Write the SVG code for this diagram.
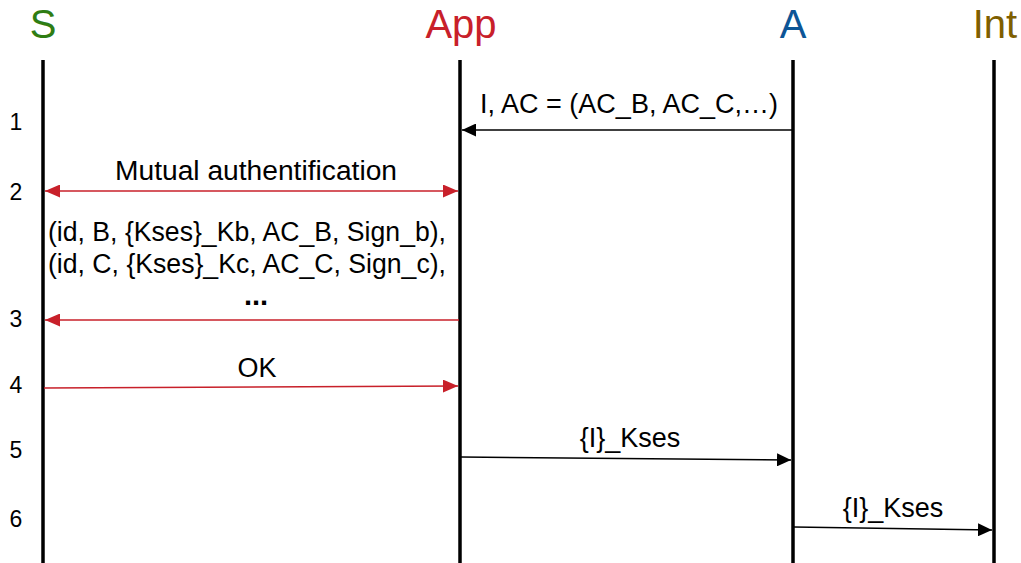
<svg xmlns="http://www.w3.org/2000/svg" width="1021" height="563" viewBox="0 0 1021 563">
<defs>
<marker id="ab" viewBox="0 0 10 10" refX="10" refY="5" markerWidth="14" markerHeight="13" markerUnits="userSpaceOnUse" orient="auto-start-reverse" preserveAspectRatio="none"><path d="M0,0 L10,5 L0,10 z" fill="#000"/></marker>
<marker id="ar" viewBox="0 0 10 10" refX="10" refY="5" markerWidth="15" markerHeight="13" markerUnits="userSpaceOnUse" orient="auto-start-reverse" preserveAspectRatio="none"><path d="M0,0 L10,5 L0,10 z" fill="#c8202a"/></marker>
</defs>
<style>
text{font-family:"Liberation Sans",Arial,sans-serif}
.hd{font-size:40px;text-anchor:middle}
.num{font-size:23px;text-anchor:middle;fill:#000}
.lbl{font-size:27px;text-anchor:middle;fill:#000}
.life{stroke:#000;stroke-width:3.5;fill:none}
.blk{stroke:#000;stroke-width:1.5;fill:none;marker-end:url(#ab)}
.red{stroke:#c8202a;stroke-width:1.5;fill:none;marker-end:url(#ar)}
</style>
<rect width="1021" height="563" fill="#fff"/>
<g id="S"><text class="hd" x="43" y="38" fill="#2f7d13">S</text><line class="life" x1="43" y1="60" x2="43" y2="563"/></g>
<g id="App"><text class="hd" x="461" y="38" fill="#c8202a">App</text><line class="life" x1="460" y1="60" x2="460" y2="563"/></g>
<g id="A"><text class="hd" x="793" y="38" fill="#0d5596">A</text><line class="life" x1="793" y1="60" x2="793" y2="563"/></g>
<g id="Int"><text class="hd" x="995" y="38" fill="#7f5f00">Int</text><line class="life" x1="994" y1="60" x2="994" y2="563"/></g>
<g id="numbers">
<text class="num" x="16" y="130">1</text>
<text class="num" x="16" y="200">2</text>
<text class="num" x="16" y="327">3</text>
<text class="num" x="16" y="393">4</text>
<text class="num" x="16" y="458">5</text>
<text class="num" x="16" y="527">6</text>
</g>
<g id="connectors">
<line class="blk" x1="792" y1="130" x2="462" y2="130"/>
<line class="red" x1="45" y1="191" x2="458" y2="191" style="marker-start:url(#ar)"/>
<line class="red" x1="459" y1="320" x2="45" y2="320"/>
<line class="red" x1="44" y1="388" x2="458" y2="386"/>
<line class="blk" x1="461" y1="457" x2="791" y2="460"/>
<line class="blk" x1="794" y1="527" x2="992" y2="530"/>
</g>
<g id="labels">
<text class="lbl" x="629" y="113">I, AC = (AC_B, AC_C,…)</text>
<text class="lbl" x="256" y="180" textLength="282" lengthAdjust="spacingAndGlyphs">Mutual authentification</text>
<text class="lbl" x="247" y="241" textLength="398" lengthAdjust="spacingAndGlyphs">(id, B, {Kses}_Kb, AC_B, Sign_b),</text>
<text class="lbl" x="247" y="273" textLength="398" lengthAdjust="spacingAndGlyphs">(id, C, {Kses}_Kc, AC_C, Sign_c),</text>
<text class="lbl" x="256" y="305" style="font-weight:bold;font-size:29px">...</text>
<text class="lbl" x="257" y="377">OK</text>
<text class="lbl" x="630" y="447">{I}_Kses</text>
<text class="lbl" x="893" y="517">{I}_Kses</text>
</g>
</svg>
